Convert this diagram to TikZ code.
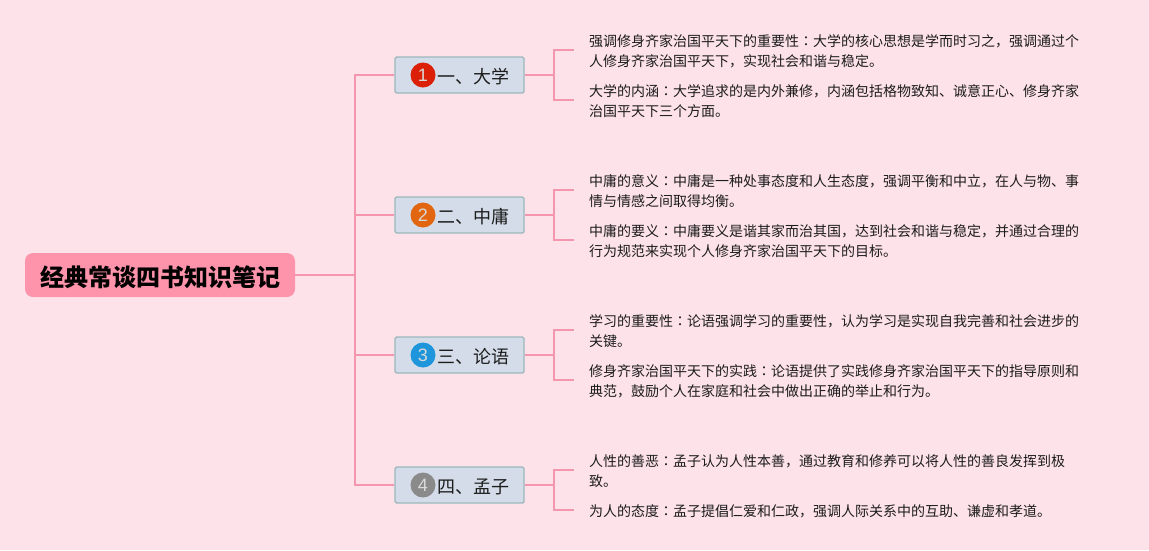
\documentclass[tikz,border=0pt]{standalone}
\usepackage{fontspec}
\usepackage{xcolor}
\setmainfont{Noto Sans CJK SC}
\newfontfamily\digitfont{Liberation Sans}
\newfontfamily\colonfont{Noto Sans CJK TC}
\newcommand{\cln}{{\colonfont：}}
\newcommand{\lowered}[2]{\raisebox{-#1}[\height][\depth]{#2}}
\usetikzlibrary{positioning}
\definecolor{mapBack}{HTML}{FDE2EA}
\definecolor{mapLine}{HTML}{F596AF}
\definecolor{mapRoot}{HTML}{FE93AC}
\definecolor{mapBox}{HTML}{D3DCE8}
\definecolor{mapEdge}{HTML}{9CB8BA}
\definecolor{mapText}{HTML}{1C1C1C}
\definecolor{dotRed}{HTML}{DC2008}
\definecolor{dotOrange}{HTML}{E2650F}
\definecolor{dotBlue}{HTML}{1F96DC}
\definecolor{dotGray}{HTML}{8A8A8A}
\tikzset{
  rootbox/.style={fill=mapRoot,rounded corners=8pt,minimum width=270pt,minimum height=44pt,inner sep=0pt,font=\fontsize{24}{28}\selectfont\bfseries},
  topicbox/.style={draw=mapEdge,line width=1.4pt,fill=mapBox,rounded corners=1.5pt,minimum width=129pt,minimum height=36pt,inner sep=0pt,text=mapText,font=\fontsize{18}{22}\selectfont},
  numdot/.style={circle,minimum size=25pt,inner sep=0pt,text=white!85!black,font=\digitfont\fontsize{18}{20}\selectfont},
  notetext/.style={anchor=west,align=left,inner sep=0pt,inner xsep=15pt,text=mapText,font=\fontsize{14}{20}\selectfont},
  link/.style={draw=mapLine,line width=2pt},
  rootlink/.style={draw=mapLine,line width=1.5pt}
}
\begin{document}
\begin{tikzpicture}[x=1pt,y=-1pt]
    \fill[mapBack] (0,0) rectangle (1149,550);
    \useasboundingbox (0,0) rectangle (1149,550);
    % centre and the four topics
    \node[rootbox] (root) at (160,275) {\lowered{2pt}{\hspace*{1pt}经典常谈四书知识笔记}};
    \node[topicbox] (daxue) at (459.5,75) {\lowered{1.5pt}{\hspace*{28pt}一、大学}};
    \node[topicbox] (zhongyong) at (459.5,215) {\lowered{1.5pt}{\hspace*{28pt}二、中庸}};
    \node[topicbox] (lunyu) at (459.5,355) {\lowered{1.5pt}{\hspace*{28pt}三、论语}};
    \node[topicbox] (mengzi) at (459.5,485) {\lowered{1.5pt}{\hspace*{28pt}四、孟子}};
    \node[numdot,fill=dotRed] (dotA) at (423,75) {1};
    \node[numdot,fill=dotOrange] (dotB) at (423,215) {2};
    \node[numdot,fill=dotBlue] (dotC) at (423,355) {3};
    \node[numdot,fill=dotGray] (dotD) at (423,485) {4};
    % notes
    \node[notetext] (daxueA) at (574,51) {强调修身齐家治国平天下的重要性\cln 大学的核心思想是学而时习之，强调通过个\\人修身齐家治国平天下，实现社会和谐与稳定。};
    \node[notetext] (daxueB) at (574,101) {大学的内涵\cln 大学追求的是内外兼修，内涵包括格物致知、诚意正心、修身齐家\\治国平天下三个方面。};
    \node[notetext] (zhongyongA) at (574,191) {中庸的意义\cln 中庸是一种处事态度和人生态度，强调平衡和中立，在人与物、事\\情与情感之间取得均衡。};
    \node[notetext] (zhongyongB) at (574,241) {中庸的要义\cln 中庸要义是谐其家而治其国，达到社会和谐与稳定，并通过合理的\\行为规范来实现个人修身齐家治国平天下的目标。};
    \node[notetext] (lunyuA) at (574,331) {学习的重要性\cln 论语强调学习的重要性，认为学习是实现自我完善和社会进步的\\关键。};
    \node[notetext] (lunyuB) at (574,381) {修身齐家治国平天下的实践\cln 论语提供了实践修身齐家治国平天下的指导原则和\\典范，鼓励个人在家庭和社会中做出正确的举止和行为。};
    \node[notetext] (mengziA) at (574,471) {人性的善恶\cln 孟子认为人性本善，通过教育和修养可以将人性的善良发挥到极\\致。};
    \node[notetext] (mengziB) at (574,511) {为人的态度\cln 孟子提倡仁爱和仁政，强调人际关系中的互助、谦虚和孝道。};
    % connectors
    \coordinate (trunk) at (355,275);
    \draw[rootlink] (root.east) -- (trunk);
    \draw[link] (trunk) |- (daxue.west) (trunk) |- (zhongyong.west)
      (trunk) |- (lunyu.west) (trunk) |- (mengzi.west);
    \foreach \t in {daxue,zhongyong,lunyu,mengzi}
      \draw[link] (\t.east) -- ++(29,0) coordinate (fork)
        (fork) |- ([yshift=1pt]\t A.west) (fork) |- ([yshift=1pt]\t B.west);
\end{tikzpicture}
\end{document}
